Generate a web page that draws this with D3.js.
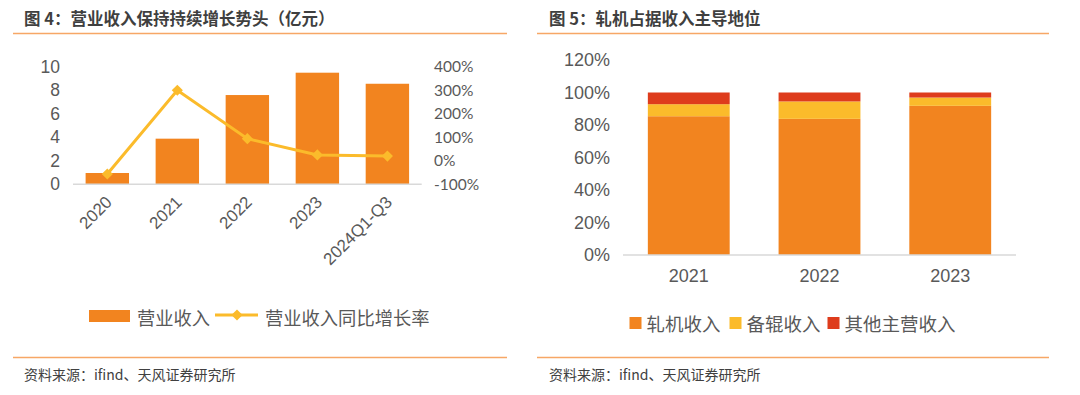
<!DOCTYPE html>
<html>
<head>
<meta charset="utf-8">
<script src="https://cdn.jsdelivr.net/npm/d3@7"></script>
<style>
  body { margin: 0; background: #fff; }
  text { font-family: "Liberation Sans", Arial, sans-serif; fill: #595959; }
  .cjk { font-family: "Noto Sans CJK SC", sans-serif; }
  .domain { stroke: #d9d9d9; stroke-width: 1.5; }
</style>
</head>
<body>
<svg id="chart" width="1080" height="395"></svg>
<script>
// figure 4: revenue (100m yuan) and yoy growth
var revYears = ["2020", "2021", "2022", "2023", "2024Q1-Q3"],
    revenue = [0.96, 3.88, 7.59, 9.49, 8.55],
    growth = [-0.56, 3.00, 0.94, 0.25, 0.20],
    revTicks = [0, 2, 4, 6, 8, 10],
    growthTicks = [-1, 0, 1, 2, 3, 4];

// figure 5: revenue mix
var mixYears = ["2021", "2022", "2023"],
    millShare = [0.854, 0.838, 0.918],
    rollShare = [0.074, 0.107, 0.051],
    otherShare = [0.072, 0.055, 0.031],
    mixNames = ["轧机收入", "备辊收入", "其他主营收入"],
    mixTicks = [0, 0.2, 0.4, 0.6, 0.8, 1.0, 1.2];

var orange = "#f2841f", yellow = "#fbbb2b", red = "#de3c1c", accent = "#f7a766";

var svg = d3.select("#chart");

// frame lines + titles + sources
[{x0: 13, x1: 507, title: "图 4：营业收入保持持续增长势头（亿元）", tx: 24},
 {x0: 537, x1: 1049, title: "图 5：轧机占据收入主导地位", tx: 549}].forEach(function (p) {
    svg.append("line").attr("x1", p.x0).attr("x2", p.x1).attr("y1", 33.5).attr("y2", 33.5)
        .attr("stroke", accent).attr("stroke-width", 1.5);
    svg.append("line").attr("x1", p.x0).attr("x2", p.x1).attr("y1", 357.5).attr("y2", 357.5)
        .attr("stroke", accent).attr("stroke-width", 1.5);
    svg.append("text").attr("class", "cjk").attr("x", p.tx).attr("y", 18)
        .attr("dominant-baseline", "central")
        .style("font-size", "16.5px").style("font-weight", "bold").style("fill", "#3f3f3f")
        .text(p.title);
    svg.append("text").attr("class", "cjk").attr("x", p.tx).attr("y", 373.5)
        .attr("dominant-baseline", "central")
        .style("font-size", "14px").style("fill", "#404040")
        .text("资料来源：ifind、天风证券研究所");
});

// ---------- left chart ----------
var x1 = d3.scaleBand().domain(revYears).range([73, 421.7]).paddingInner(0.38).paddingOuter(0.18),
    y1 = d3.scaleLinear().domain([0, 10]).range([184.3, 66.7]),
    y1r = d3.scaleLinear().domain([-1, 4]).range([184.3, 66.7]);

var left = svg.append("g");

left.selectAll(".bar")
    .data(revenue)
  .enter().append("rect")
    .attr("class", "bar")
    .attr("x", (d, i) => x1(revYears[i]))
    .attr("width", x1.bandwidth())
    .attr("y", d => y1(d))
    .attr("height", d => y1(0) - y1(d))
    .attr("fill", orange);

var xAxis1 = left.append("g")
    .attr("transform", "translate(0," + y1(0) + ")")
    .call(d3.axisBottom(x1).tickSize(0).tickFormat(""));
xAxis1.select(".domain").attr("d", "M73,0H421.7");

left.selectAll(".xlab")
    .data(revYears)
  .enter().append("text")
    .attr("class", "xlab")
    .attr("transform", d => "translate(" + (x1(d) + x1.bandwidth() / 2 + 1.5) + ",199) rotate(-45)")
    .attr("text-anchor", "end")
    .attr("dy", "0.35em")
    .style("font-size", "17px")
    .text(d => d);

var yAxis1 = left.append("g")
    .attr("transform", "translate(60,0)")
    .call(d3.axisLeft(y1).tickValues(revTicks).tickSize(0).tickPadding(0));
yAxis1.select(".domain").remove();
yAxis1.selectAll("text").style("font-size", "17.5px").style("fill", "#595959");

var yAxis1r = left.append("g")
    .attr("transform", "translate(434,0)")
    .call(d3.axisRight(y1r).tickValues(growthTicks).tickSize(0).tickPadding(0)
        .tickFormat(d => Math.round(d * 100) + "%"));
yAxis1r.select(".domain").remove();
yAxis1r.selectAll("text").style("font-size", "15.5px").style("font-family", "Lato, sans-serif").style("fill", "#595959");

var line = d3.line()
    .x((d, i) => x1(revYears[i]) + x1.bandwidth() / 2)
    .y(d => y1r(d));

left.append("path")
    .datum(growth)
    .attr("d", line)
    .attr("fill", "none")
    .attr("stroke", yellow)
    .attr("stroke-width", 3);

var diamond = d3.symbol().type(d3.symbolSquare).size(62);

left.selectAll(".pt")
    .data(growth)
  .enter().append("path")
    .attr("class", "pt")
    .attr("d", diamond)
    .attr("transform", (d, i) => "translate(" + (x1(revYears[i]) + x1.bandwidth() / 2) + "," + y1r(d) + ") rotate(45)")
    .attr("fill", yellow);

// legend left
var lg1 = left.append("g");
lg1.append("rect").attr("x", 89).attr("y", 310).attr("width", 41).attr("height", 12).attr("fill", orange);
lg1.append("text").attr("class", "cjk").attr("x", 137).attr("y", 316.5)
    .attr("dominant-baseline", "central").style("font-size", "18.3px").text("营业收入");
lg1.append("line").attr("x1", 215).attr("x2", 258).attr("y1", 315).attr("y2", 315)
    .attr("stroke", yellow).attr("stroke-width", 3);
lg1.append("path").attr("d", diamond).attr("transform", "translate(237,315) rotate(45)").attr("fill", yellow);
lg1.append("text").attr("class", "cjk").attr("x", 265).attr("y", 316.5)
    .attr("dominant-baseline", "central").style("font-size", "18.3px").text("营业收入同比增长率");

// ---------- right chart ----------
var x2 = d3.scaleBand().domain(mixYears).range([623, 1016]).paddingInner(0.374).paddingOuter(0.19),
    y2 = d3.scaleLinear().domain([0, 1.2]).range([255, 60]);

var mixRows = mixYears.map((yr, i) => ({year: yr, mill: millShare[i], roll: rollShare[i], other: otherShare[i]}));
var stack = d3.stack().keys(["mill", "roll", "other"])(mixRows);
var mixColors = [orange, yellow, red];

var right = svg.append("g");

right.selectAll(".layer")
    .data(stack)
  .enter().append("g")
    .attr("class", "layer")
    .attr("fill", (d, i) => mixColors[i])
  .selectAll("rect")
    .data(d => d)
  .enter().append("rect")
    .attr("x", d => x2(d.data.year))
    .attr("width", x2.bandwidth())
    .attr("y", d => y2(d[1]))
    .attr("height", d => y2(d[0]) - y2(d[1]));

var xAxis2 = right.append("g")
    .attr("transform", "translate(0," + y2(0) + ")")
    .call(d3.axisBottom(x2).tickSize(0).tickPadding(14));
xAxis2.select(".domain").attr("d", "M623,0H1016");
xAxis2.selectAll("text").style("font-size", "18px").style("fill", "#595959");

var yAxis2 = right.append("g")
    .attr("transform", "translate(610,0)")
    .call(d3.axisLeft(y2).tickValues(mixTicks).tickSize(0).tickPadding(0)
        .tickFormat(d => Math.round(d * 100) + "%"));
yAxis2.select(".domain").remove();
yAxis2.selectAll("text").style("font-size", "18px").style("fill", "#595959");

// legend right
var lgX = [629.5, 729.5, 827.5];
var lg2 = right.selectAll(".lg2")
    .data(mixNames)
  .enter().append("g")
    .attr("class", "lg2")
    .attr("transform", (d, i) => "translate(" + lgX[i] + ",0)");
lg2.append("rect").attr("x", 0).attr("y", 317).attr("width", 12).attr("height", 12)
    .attr("fill", (d, i) => mixColors[i]);
lg2.append("text").attr("class", "cjk").attr("x", 17).attr("y", 323)
    .attr("dominant-baseline", "central").style("font-size", "18.5px").text(d => d);
</script>
</body>
</html>
